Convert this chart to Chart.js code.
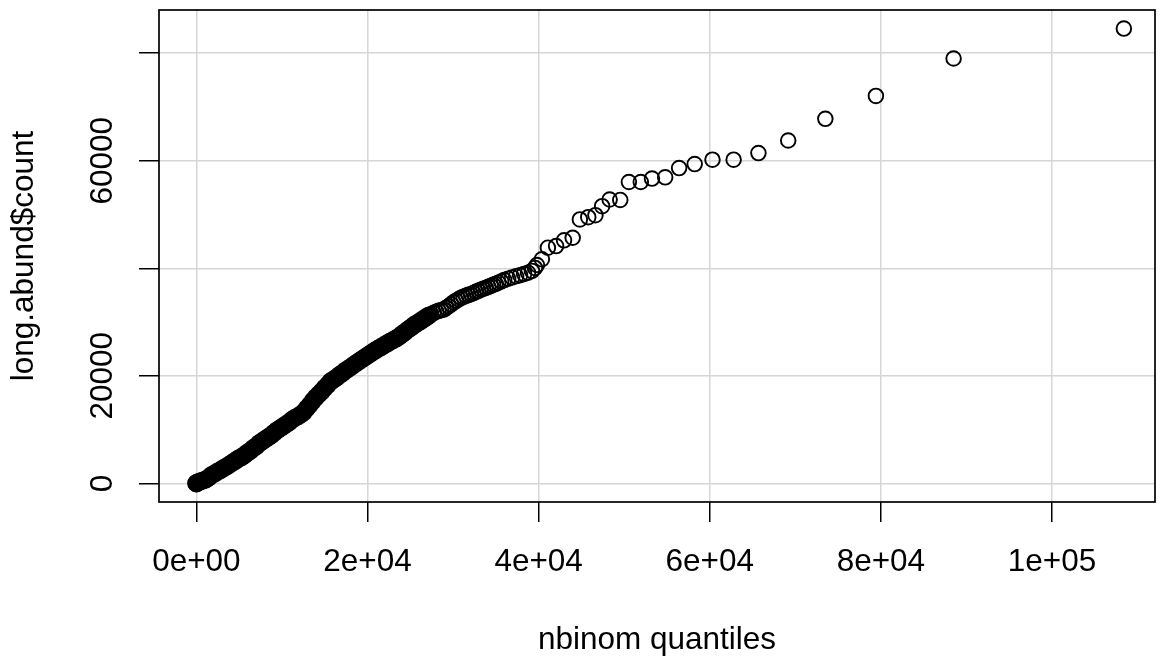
<!DOCTYPE html>
<html>
<head>
<meta charset="utf-8">
<script src="https://cdn.jsdelivr.net/npm/chart.js@4.4.1/dist/chart.umd.min.js"></script>
<style>
  html, body { margin: 0; padding: 0; background: #fff; }
  #wrap { width: 1165px; height: 660px; }
</style>
</head>
<body>
<div id="wrap"><canvas id="qq"></canvas></div>
<script>
// low end of the Q-Q plot: so many points that the circles merge into a solid band
const denseQuantiles = [0, 0, 120, 380, 730, 1080, 1430, 1770, 2120, 2470, 2820, 3170, 3510, 3860, 4210, 4560, 4900,
    5250, 5600, 5950, 6300, 6640, 6990, 7340, 7690, 8030, 8380, 8730, 9080, 9430, 9770, 10120, 10470, 10820,
    11160, 11510, 11860, 12210, 12560, 12900, 13250, 13600, 13950, 14300, 14640, 14990, 15340, 15690, 16030,
    16380, 16730, 17080, 17430, 17770, 18120, 18470, 18820, 19160, 19510, 19860, 20210, 20560, 20900, 21250,
    21600, 21950, 22290, 22640, 22990, 23340, 23690, 24030, 24380, 24730, 25080, 25420, 25770, 26120, 26470,
    26820, 27160];
const denseCounts = [0, 60, 150, 330, 520, 700, 1070, 1540, 1820, 2190, 2460, 2830, 3110, 3480, 3850, 4220, 4590,
    4870, 5240, 5700, 6070, 6540, 6910, 7460, 7830, 8200, 8570, 8950, 9410, 9870, 10240, 10610, 10980,
    11350, 11820, 12190, 12460, 12830, 13260, 13950, 14590, 15330, 15980, 16540, 17090, 17740, 18300, 18950,
    19320, 19690, 20150, 20520, 20980, 21350, 21720, 22130, 22500, 22870, 23240, 23610, 23980, 24350, 24720,
    25060, 25370, 25700, 26020, 26350, 26630, 26950, 27280, 27740, 28150, 28580, 28980, 29410, 29780, 30110,
    30480, 30850, 31220];

// upper part: open circles, overlapping at first, then spread out
const tailQuantiles = [27460, 27750, 28040, 28320, 28610, 28900, 29190, 29480, 29770, 30060, 30350, 30640, 30930,
    31220, 31510, 31800, 32090, 32380, 32670, 32960, 33250, 33540, 33830, 34120, 34410, 34700, 34990, 35280,
    35630, 35980, 36440, 36900, 37370, 37830, 38300, 38760, 39220, 39570,
    39800, 40380, 41080, 42040, 42970, 43980, 44820, 45800, 46640, 47420, 48300, 49540, 50550, 51940, 53250,
    54790, 56420, 58240, 60320, 62790, 65690, 69170, 73510, 79420, 88500, 108400];
const tailCounts = [31450, 31720, 31910, 32090, 32190, 32320, 32650, 32930, 33300, 33670, 33950, 34220, 34500,
    34690, 34870, 35060, 35190, 35390, 35610, 35800, 36020, 36200, 36350, 36540, 36720, 36950, 37090, 37320,
    37560, 37800, 38060, 38300, 38520, 38720, 38950, 39170, 39500, 40060,
    40610, 41670, 43820, 44130, 45190, 45670, 49080, 49500, 49870, 51540, 52780, 52700, 56040, 56040, 56670,
    56910, 58630, 59370, 60190, 60190, 61410, 63760, 67780, 72040, 79000, 84560];

const xTickValues = [0, 20000, 40000, 60000, 80000, 100000];
const xTickLabels = ['0e+00', '2e+04', '4e+04', '6e+04', '8e+04', '1e+05'];
const yTickValues = [0, 20000, 40000, 60000, 80000];
const yTickLabels = ['0', '20000', '', '60000', ''];

const FONT = { family: '"Liberation Sans", Arial, Helvetica, sans-serif', size: 31.5 };

const toPoints = (xs, ys) => xs.map((x, i) => ({ x, y: ys[i] }));

// R style frame round the plot region
const plotBox = {
    id: 'plotBox',
    afterDraw(chart) {
        const { ctx, chartArea: a } = chart;
        ctx.save();
        ctx.strokeStyle = '#000';
        ctx.lineWidth = 1.7;
        ctx.strokeRect(a.left, a.top, a.right - a.left, a.bottom - a.top);
        ctx.restore();
    }
};

const gridOpts = {
    color: '#d6d6d6',
    lineWidth: 1.5,
    drawTicks: true,
    tickLength: 20,
    tickColor: '#000',
    tickWidth: 1.5
};

new Chart(document.getElementById('qq'), {
    type: 'scatter',
    data: {
        datasets: [
            {
                data: toPoints(denseQuantiles, denseCounts),
                pointRadius: 8.2,
                borderWidth: 1.8,
                borderColor: '#000',
                backgroundColor: '#000'
            },
            {
                data: toPoints(tailQuantiles, tailCounts),
                pointRadius: 7.3,
                borderWidth: 1.9,
                borderColor: '#000',
                backgroundColor: 'rgba(0,0,0,0)'
            }
        ]
    },
    options: {
        responsive: true,
        maintainAspectRatio: false,
        animation: false,
        layout: { padding: { top: 8, right: 2, left: 0, bottom: 0 } },
        plugins: { legend: { display: false }, tooltip: { enabled: false } },
        scales: {
            x: {
                type: 'linear',
                min: -4370,
                max: 112040,
                grid: gridOpts,
                border: { display: false },
                afterBuildTicks: s => { s.ticks = xTickValues.map(v => ({ value: v })); },
                afterFit: s => {
                    s.height = 158;
                    s.paddingLeft = 0;
                    s.paddingRight = 0;
                },
                ticks: {
                    color: '#000',
                    font: FONT,
                    padding: 21,
                    maxRotation: 0,
                    callback: v => xTickLabels[xTickValues.indexOf(v)]
                },
                title: {
                    display: true,
                    text: 'nbinom quantiles',
                    color: '#000',
                    font: FONT,
                    padding: { top: 0, bottom: 1 }
                }
            },
            y: {
                type: 'linear',
                min: -3460,
                max: 88020,
                grid: gridOpts,
                border: { display: false },
                afterBuildTicks: s => { s.ticks = yTickValues.map(v => ({ value: v })); },
                afterFit: s => {
                    s.width = 159;
                    s.paddingTop = 0;
                    s.paddingBottom = 0;
                },
                ticks: {
                    color: '#000',
                    font: FONT,
                    minRotation: 90,
                    maxRotation: 90,
                    crossAlign: 'center',
                    padding: -8,
                    callback: v => yTickLabels[yTickValues.indexOf(v)]
                },
                title: {
                    display: true,
                    text: 'long.abund$count',
                    color: '#000',
                    font: FONT,
                    padding: { top: 5, bottom: 0 }
                }
            }
        }
    },
    plugins: [plotBox]
});
</script>
</body>
</html>
